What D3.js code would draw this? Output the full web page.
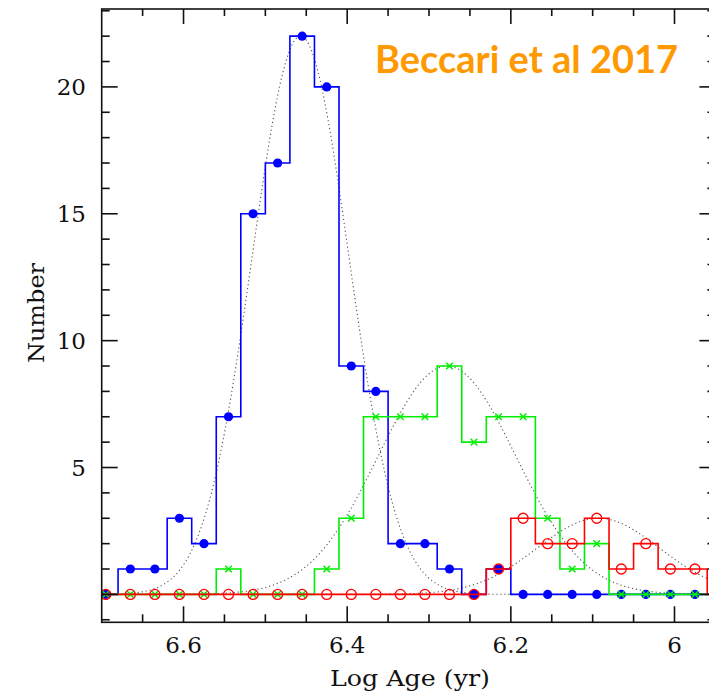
<!DOCTYPE html>
<html><head><meta charset="utf-8">
<script src="https://cdn.jsdelivr.net/npm/d3@7"></script>
<style>body{margin:0;background:#fff;overflow:hidden}</style>
</head><body><svg id="c" width="709" height="692"></svg>
<script>
// ---- data ----
const binCenters = [6.695,6.665,6.635,6.605,6.575,6.545,6.515,6.485,6.455,6.425,6.395,6.365,6.335,6.305,6.275,6.245,6.215,6.185,6.155,6.125,6.095,6.065,6.035,6.005,5.975];
const binWidth = 0.03;
const blueCounts  = [0,1,1,3,2,7,15,17,22,20,9,8,2,2,1,0,1,0,0,0,0,0,0,0,0];
const greenCounts = [0,0,0,0,0,1,0,0,0,1,3,7,7,7,9,6,7,7,3,1,2,0,0,0,0];
const redCounts   = [0,0,0,0,0,0,0,0,0,0,0,0,0,0,0,0,1,3,2,2,3,1,2,1,1];
// Gaussian fits: [amplitude, mean, sigma]
const blueFit  = [22.0, 6.457, 0.059];
const greenFit = [9.0, 6.278, 0.084];
const redFit   = [3.0, 6.093, 0.075];
const xTicksMajor = [6.6, 6.4, 6.2, 6.0];
const xTickLabels = ["6.6", "6.4", "6.2", "6"];
const yTicksMajor = [5, 10, 15, 20];
const yTickLabels = ["5", "10", "15", "20"];
const titleText = "Beccari et al 2017";
const xLabel = "Log Age (yr)";
const yLabel = "Number";

// ---- layout ----
const svg = d3.select("#c");
const L = 101.7, R = 715.4, T = 9, B = 622.3;
const x = d3.scaleLinear().domain([6.7, 5.95]).range([L, R]);
const y = d3.scaleLinear().domain([-1.1, 23.07]).range([B, T]);

svg.append("defs").append("clipPath").attr("id","pc")
  .append("rect").attr("x",L).attr("y",T).attr("width",R-L).attr("height",B-T);
const plot = svg.append("g").attr("clip-path","url(#pc)");

// gaussian curves
const xs = d3.range(0, 401).map(i => 6.7 - i*(0.75/400));
function gauss(p){ return xs.map(v => [v, p[0]*Math.exp(-((v-p[1])**2)/(2*p[2]*p[2]))]); }
const gl = d3.line().x(d=>x(d[0])).y(d=>y(d[1]));
[blueFit, greenFit, redFit].forEach(p => {
  plot.append("path").attr("d", gl(gauss(p))).attr("fill","none")
    .attr("stroke","#555").attr("stroke-width",1.1).attr("stroke-dasharray","1.2,2.8");
});

function stepPts(counts){
  const pts = [[6.72, 0]];
  counts.forEach((v,i) => { const c = binCenters[i];
    pts.push([c+binWidth/2, v]); pts.push([c-binWidth/2, v]); });
  pts.push([binCenters[binCenters.length-1]-binWidth/2, 0]);
  pts.push([5.9, 0]);
  const out = [];
  pts.forEach((p,i) => { if(i>0){ const prev = out[out.length-1]; if(prev[1]!==p[1]) out.push([p[0], prev[1]]); } out.push(p); });
  return out;
}
const sl = d3.line().x(d=>x(d[0])).y(d=>y(d[1]));

function drawSeries(counts, color, marker){
  plot.append("path").attr("d", sl(stepPts(counts))).attr("fill","none")
    .attr("stroke", color).attr("stroke-width", 1.6);
  const g = plot.append("g");
  counts.forEach((v,i) => {
    const cx = x(binCenters[i]), cy = y(v);
    if(marker==="dot") g.append("circle").attr("cx",cx).attr("cy",cy).attr("r",4.6).attr("fill",color);
    else if(marker==="ring") g.append("circle").attr("cx",cx).attr("cy",cy).attr("r",5).attr("fill","none").attr("stroke",color).attr("stroke-width",1.3);
    else {
      const s = 3.3;
      g.append("path").attr("d",`M${cx-s},${cy-s}L${cx+s},${cy+s}M${cx-s},${cy+s}L${cx+s},${cy-s}`)
        .attr("stroke",color).attr("stroke-width",1.5);
    }
  });
}
drawSeries(blueCounts, "#0000ff", "dot");
drawSeries(greenCounts, "#00ee00", "x");
drawSeries(redCounts, "#ff0000", "ring");

// ---- frame & ticks ----
const ax = svg.append("g").attr("stroke","#111").attr("stroke-width",1.6).attr("fill","none");
ax.append("rect").attr("x",L).attr("y",T).attr("width",R-L).attr("height",B-T);
const xMinor = d3.range(0, 15).map(i => +(6.7 - i*0.05).toFixed(2)).filter(v => v>5.95 && v<6.7);
xMinor.forEach(v => {
  const major = xTicksMajor.some(m => Math.abs(m-v)<1e-6);
  const xb = x(v);
  ax.append("line").attr("x1",xb).attr("x2",xb).attr("y1",B).attr("y2",B-(major?16:8));
  ax.append("line").attr("x1",xb).attr("x2",xb).attr("y1",T).attr("y2",T+(major?15:7));
});
d3.range(-1, 24).forEach(v => {
  const major = v % 5 === 0;
  const yb = y(v);
  ax.append("line").attr("x1",L).attr("x2",L+(major?16:8)).attr("y1",yb).attr("y2",yb);
  ax.append("line").attr("x1",R).attr("x2",R-(major?16:8)).attr("y1",yb).attr("y2",yb);
});

// ---- labels ----
const lab = svg.append("g").attr("fill","#111").attr("font-family","'DejaVu Serif', serif");
xTicksMajor.forEach((v,i) => lab.append("text").attr("x",x(v)).attr("y",653)
  .attr("text-anchor","middle").attr("font-size",23).text(xTickLabels[i]));
yTicksMajor.forEach((v,i) => lab.append("text").attr("x",86).attr("y",y(v)+8)
  .attr("text-anchor","end").attr("font-size",23).text(yTickLabels[i]));
lab.append("text").attr("x",410).attr("y",686).attr("text-anchor","middle")
  .attr("font-size",22).attr("textLength",160).attr("lengthAdjust","spacingAndGlyphs").text(xLabel);
lab.append("text").attr("transform","translate(44,313) rotate(-90)").attr("text-anchor","middle")
  .attr("font-size",22).attr("textLength",100).attr("lengthAdjust","spacingAndGlyphs").text(yLabel);

svg.append("text").attr("x",375).attr("y",73).attr("font-family","Lato, 'Open Sans', sans-serif")
  .attr("font-weight","bold").attr("font-size",38).attr("fill","#ff9900")
  .attr("textLength",303).attr("lengthAdjust","spacingAndGlyphs").text(titleText);
</script></body></html>
